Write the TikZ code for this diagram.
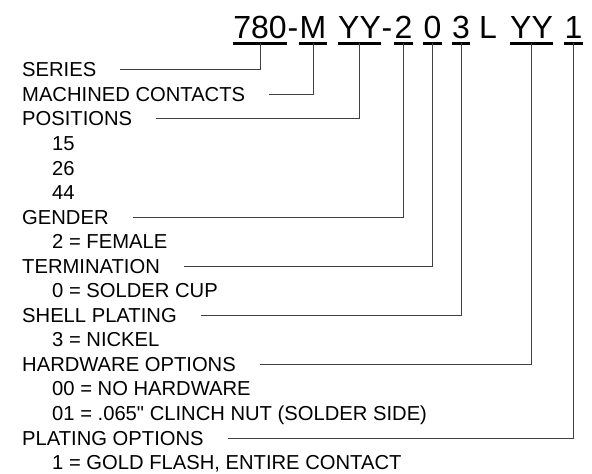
\documentclass[tikz,border=0pt]{standalone}
\usepackage{fontspec}
\setmainfont{Liberation Sans}
\begin{document}
\begin{tikzpicture}[x=1pt,y=-1pt,
every node/.style={inner sep=0pt},
part/.style={anchor=base,font=\fontsize{32}{36}\selectfont},
row/.style={anchor=base west,font=\fontsize{20.2}{24}\selectfont},
uline/.style={line width=3pt},
conn/.style={draw=black!75,line width=1pt}]
\useasboundingbox (0,0) rectangle (592,474);
\def\base{38.3}
% part number
\node[part] (s780) at (260,\base) {780};
\node[part] (d1) at (293,\base) {-};
\node[part] (sM) at (313,\base) {M};
\node[part] (sYY) at (359.5,\base) {YY};
\node[part] (d2) at (387,\base) {-};
\node[part] (s2) at (403.5,\base) {2};
\node[part] (s0) at (432.5,\base) {0};
\node[part] (s3) at (461,\base) {3};
\node[part] (sL) at (488,\base) {L};
\node[part] (sYYb) at (531.5,\base) {YY};
\node[part] (s1) at (573.5,\base) {1};

%underlines
\foreach \s in {s780,sM,sYY,s2,s0,s3,sYYb,s1}
	\draw[uline] ([yshift=-5pt]\s.base west) -- ([yshift=-5pt]\s.base east);

%legend rows
\foreach \txt/\ind [count=\i from 0] in {SERIES/0, MACHINED CONTACTS/0,
	POSITIONS/0, 15/30, 26/30, 44/30, GENDER/0, 2 = FEMALE/30,
	TERMINATION/0, 0 = SOLDER CUP/30, SHELL PLATING/0, 3 = NICKEL/30,
	HARDWARE OPTIONS/0, 00 = NO HARDWARE/30,
	{01 = .065\textquotedbl{} CLINCH NUT (SOLDER SIDE)}/30, PLATING OPTIONS/0,
	{1 = GOLD FLASH, ENTIRE CONTACT}/30}
	\node[row] (r\i) at (22+\ind,76.8+24.55*\i) {\txt};

%leaders from the headings up to the part number
\foreach \r/\s in {0/s780,1/sM,2/sYY,6/s2,8/s0,10/s3,12/sYYb,15/s1}
	\draw[conn] ([xshift=24pt]r\r.east) -| ([yshift=-5pt]\s.base);
\end{tikzpicture}
\end{document}
